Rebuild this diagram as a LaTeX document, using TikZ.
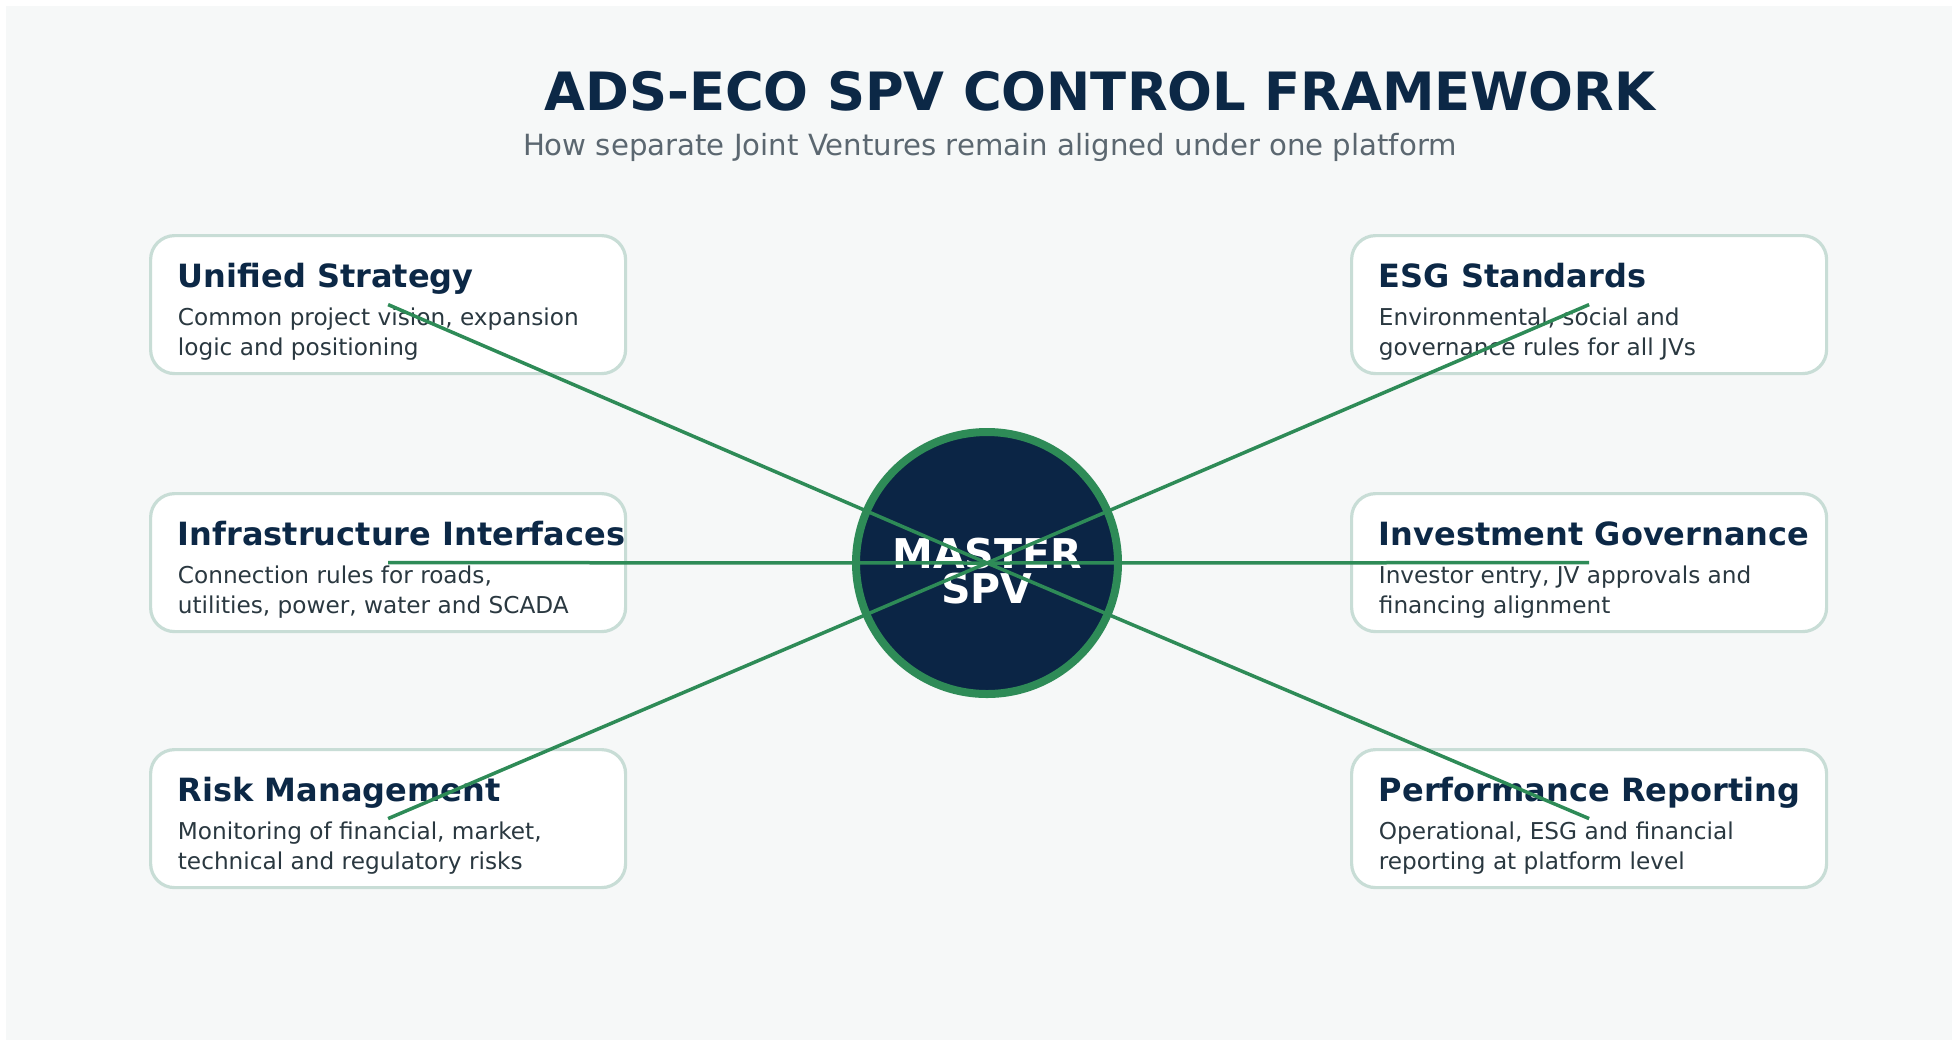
\documentclass[tikz,border=0pt]{standalone}
\usepackage{fontspec}
\setmainfont{DejaVu Sans}
\usetikzlibrary{calc}

\definecolor{navy}{HTML}{0C2846}
\definecolor{spvfill}{HTML}{0B2545}
\definecolor{linkgreen}{HTML}{2E8B57}
\definecolor{boxline}{HTML}{C8DDD6}
\definecolor{bodytext}{HTML}{2A3840}
\definecolor{subtext}{HTML}{5B6770}
\definecolor{panel}{HTML}{F6F8F8}

% one rounded feature box: name, x, y (top left), heading, two body lines
\newcommand\featurecard[6]{%
  \node[featbox] (#1) at (#2,#3) {};
  \node[boxhead] (#1-t) at ($(#1.north west)+(28.5,53)$) {#4};
  \node[boxbody] (#1-a) at ($(#1.north west)+(28.5,91)$) {#5};
  \node[boxbody] (#1-b) at ($(#1.north west)+(28.5,121)$) {#6};
}

\begin{document}
\begin{tikzpicture}[x=0.5pt,y=-0.5pt,
  featbox/.style={draw=boxline, line width=1.6pt, fill=white, rounded corners=12pt,
    minimum width=237.5pt, minimum height=69pt, inner sep=0pt, anchor=north west},
  boxhead/.style={anchor=base west, inner sep=0pt, text=navy,
    font=\bfseries\fontsize{16}{19}\selectfont},
  boxbody/.style={anchor=base west, inner sep=0pt, text=bodytext,
    font=\fontsize{11.6}{14}\selectfont},
  spvtext/.style={anchor=base, inner sep=0pt, text=white,
    font=\bfseries\fontsize{20.5}{24}\selectfont},
  link/.style={draw=linkgreen, line width=1.75pt},
]
\useasboundingbox (0,0) rectangle (1952,1040);
\fill[white] (0,0) rectangle (1952,1040);
\fill[panel] (6,6) rectangle (1952,1040);

% headline
\node[anchor=base, inner sep=0pt, text=navy, font=\bfseries\fontsize{26.4}{30}\selectfont]
  (title) at (1100,110) {ADS-ECO SPV CONTROL FRAMEWORK};
\node[anchor=base, inner sep=0pt, text=subtext, font=\fontsize{14.6}{17}\selectfont]
  (subtitle) at (990,155) {How separate Joint Ventures remain aligned under one platform};

% feature boxes
\featurecard{us}{149}{234}{Unified Strategy}{Common project vision, expansion}{logic and positioning}
\featurecard{ii}{149}{492}{Infrastructure Interfaces}{Connection rules for roads,}{utilities, power, water and SCADA}
\featurecard{rm}{149}{748}{Risk Management}{Monitoring of financial, market,}{technical and regulatory risks}
\featurecard{esg}{1350}{234}{ESG Standards}{Environmental, social and}{governance rules for all JVs}
\featurecard{ig}{1350}{492}{Investment Governance}{Investor entry, JV approvals and}{financing alignment}
\featurecard{pr}{1350}{748}{Performance Reporting}{Operational, ESG and financial}{reporting at platform level}

% central hub
\node[circle, draw=linkgreen, line width=4pt, fill=spvfill, minimum size=131pt, inner sep=0pt]
  (spv) at (987,563) {};
\node[spvtext] (spv-a) at (987,568) {MASTER};
\node[spvtext] (spv-b) at (987,603) {SPV};

% connectors from each box centre to the hub
\foreach \b in {us,ii,rm,esg,ig,pr}
  \draw[link] (\b.center) -- (spv.center);
\end{tikzpicture}
\end{document}
